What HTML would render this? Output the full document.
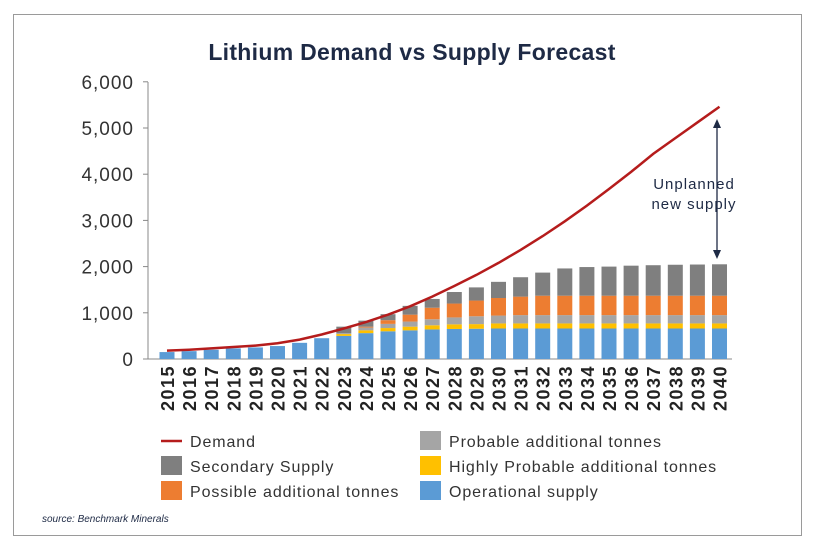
<!DOCTYPE html>
<html><head><meta charset="utf-8"><style>
body{margin:0;background:#fff;}
#wrap{position:relative;width:815px;height:548px;background:#fff;overflow:hidden;font-family:"Liberation Sans",sans-serif;}
#frame{position:absolute;left:13px;top:14px;width:789px;height:522px;border:1px solid #9a9a9a;box-sizing:border-box;}
</style></head><body>
<div id="wrap">
<div id="frame"></div>
<svg id="chart" width="815" height="548" style="position:absolute;left:0;top:0"></svg>
</div>
<script>
const years=[2015,2016,2017,2018,2019,2020,2021,2022,2023,2024,2025,2026,2027,2028,2029,2030,2031,2032,2033,2034,2035,2036,2037,2038,2039,2040];
const operational=[150,170,200,230,250,280,350,450,500,560,600,620,640,650,655,660,660,660,660,660,660,660,660,660,660,660];
const highlyProbable=[0,0,0,0,0,0,0,0,40,60,70,80,90,100,100,110,110,110,110,110,110,110,110,110,110,110];
const probable=[0,0,0,0,0,0,0,0,20,60,90,110,130,150,170,170,180,180,180,180,180,180,180,180,180,180];
const possible=[0,0,0,0,0,0,0,0,0,20,80,150,250,300,340,380,400,420,420,420,420,420,420,420,420,420];
const secondary=[0,0,0,0,0,0,0,0,140,130,130,190,190,250,285,350,420,500,590,620,630,650,660,670,675,680];
const demand=[180,200,230,260,290,340,420,530,660,800,960,1140,1350,1580,1820,2080,2360,2660,2980,3320,3680,4050,4440,4780,5120,5460];
const yTicks=[0,1000,2000,3000,4000,5000,6000];
const yTickLabels=["0","1,000","2,000","3,000","4,000","5,000","6,000"];

const NS="http://www.w3.org/2000/svg";
const svg=document.getElementById('chart');
const X0=167,DX=22.1,BW=15,Y0=359,PPU=46.2/1000;
function xs(i){return X0+i*DX;}
function ys(v){return Y0-v*PPU;}
function mk(tag,attrs,parent){const e=document.createElementNS(NS,tag);for(const k in attrs)e.setAttribute(k,attrs[k]);(parent||svg).appendChild(e);return e;}
const txtCol="#1e2a45";

let t=mk('text',{x:412,y:60,'text-anchor':'middle','font-size':'23','font-weight':'bold',fill:txtCol,'letter-spacing':'0.3'});
t.textContent="Lithium Demand vs Supply Forecast";



let ax=mk('line',{x1:148,y1:82,x2:148,y2:359,stroke:'#888','stroke-width':1});


let bx=mk('line',{x1:148,y1:359,x2:732,y2:359,stroke:'#888','stroke-width':1});


yTicks.forEach((v,i)=>{
  const tk=mk('line',{x1:143,y1:ys(v),x2:148,y2:ys(v),stroke:'#888'});
  
  
  const l=mk('text',{x:134,y:ys(v)+7,'text-anchor':'end','font-size':'19',fill:'#333','letter-spacing':'1'});
  l.textContent=yTickLabels[i];
  
  
});

const series=[[operational,'#5b9bd5','operational'],[highlyProbable,'#ffc000','highly-probable'],[probable,'#a5a5a5','probable'],[possible,'#ed7d31','possible'],[secondary,'#7f7f7f','secondary']];
years.forEach((yr,i)=>{
  let base=0;
  series.forEach(s=>{
    const v=s[0][i];
    if(v>0){
      const r=mk('rect',{x:xs(i)-BW/2,y:ys(base+v),width:BW,height:v*PPU,fill:s[1]});
      
      
    }
    base+=v;
  });
  const l=mk('text',{x:0,y:0,'text-anchor':'end','font-size':'18',fill:'#222','font-weight':'bold','letter-spacing':'1.5',transform:`translate(${xs(i)+7},365) rotate(-90)`});
  l.textContent=yr;
  
  
});

const pl=mk('polyline',{points:demand.map((v,i)=>xs(i)+','+ys(v)).join(' '),fill:'none',stroke:'#b51c1c','stroke-width':2.5});



const ar=mk('g',{});


mk('line',{x1:717,y1:126,x2:717,y2:252,stroke:'#1e2a45','stroke-width':1.3},ar);
mk('polygon',{points:'713,128 721,128 717,119',fill:'#1e2a45'},ar);
mk('polygon',{points:'713,250 721,250 717,259',fill:'#1e2a45'},ar);
[['Unplanned',189],['new supply',209]].forEach(a=>{
  const l=mk('text',{x:694,y:a[1],'text-anchor':'middle','font-size':'15','letter-spacing':'1',fill:'#1e2a45'});
  l.textContent=a[0];
  
  
});

const legend=[['Demand','line','#b51c1c',161,441],['Secondary Supply','box','#7f7f7f',161,466],['Possible additional tonnes','box','#ed7d31',161,491],['Probable additional tonnes','box','#a5a5a5',420,441],['Highly Probable additional tonnes','box','#ffc000',420,466],['Operational supply','box','#5b9bd5',420,491]];
legend.forEach(e=>{
  const g=mk('g',{});
  
  
  if(e[1]=='line')mk('line',{x1:e[3],y1:e[4],x2:e[3]+21,y2:e[4],stroke:e[2],'stroke-width':2.5},g);
  else mk('rect',{x:e[3],y:e[4]-10,width:21,height:19,fill:e[2]},g);
  const l=mk('text',{x:e[3]+29,y:e[4]+6,'font-size':'16','letter-spacing':'0.9',fill:'#333'},g);
  l.textContent=e[0];
});
const src=mk('text',{x:42,y:522,'font-size':'10','font-style':'italic',fill:'#1e2a45'});
src.textContent="source: Benchmark Minerals";


</script>
</body></html>
